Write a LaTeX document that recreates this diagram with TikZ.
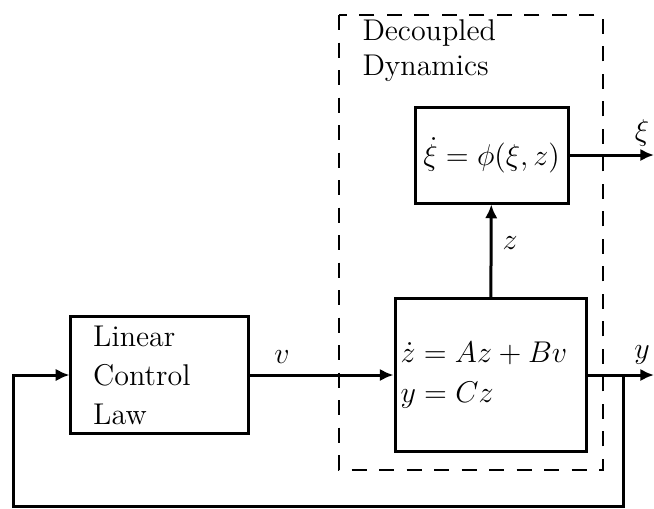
\documentclass[tikz,border=0pt]{standalone}
\usetikzlibrary{arrows.meta, positioning}

\begin{document}
\begin{tikzpicture}[
    x=0.4pt, y=-0.4pt,
    font=\fontsize{12}{15.6}\selectfont,
    block/.style={draw, line width=1.2pt, inner sep=0pt},
    sig/.style={-{Latex[length=5.5pt, width=5pt]}, line width=1.2pt},
]
\useasboundingbox (0,0) rectangle (654,508);

% ---- dashed frame ----
\draw[dashed, dash pattern=on 6pt off 5pt, line width=0.9pt] (339,15) rectangle (603,470);
\node[anchor=north west, align=left, inner sep=0pt, font=\fontsize{12}{14}\selectfont] (declbl) at (362,19)
    {Decoupled\\Dynamics};

% ---- blocks ----
\node[block, minimum width=70.8pt, minimum height=46.8pt, text width=53pt, align=left] (law) at (159.5,375)
    {Linear\\Control\\Law};
\node[block, minimum width=76.4pt, minimum height=61.2pt, inner xsep=1.5pt, text width=72pt, align=left,
    font=\fontsize{12}{16}\selectfont] (plant) at (490.5,375)
    {$\dot z = Az + Bv$\\$y = Cz$};
\node[block, minimum width=61.2pt, minimum height=38.4pt, inner xsep=1.5pt] (zero) at (491.5,155)
    {$\dot\xi = \phi(\xi, z)$};

% ---- outputs ----
\coordinate (xiout) at (654,155);
\coordinate (yout) at (654,375);
\coordinate (tap) at (623,375);
\coordinate (fb) at (13,506);

\draw[sig] (law) -- (plant);
\draw[sig] (plant) -- (zero);
\draw[sig] (zero) -- (xiout);
\draw[sig] (plant) -- (yout);
\draw[sig] (tap) |- (fb) |- (law.west);

% ---- signal labels ----
\node (vlbl) at (282,357) {$v$};
\node (zlbl) at (510,243) {$z$};
\node (xilbl) at (642,133) {$\xi$};
\node (ylbl) at (642,355) {$y$};

\end{tikzpicture}
\end{document}
